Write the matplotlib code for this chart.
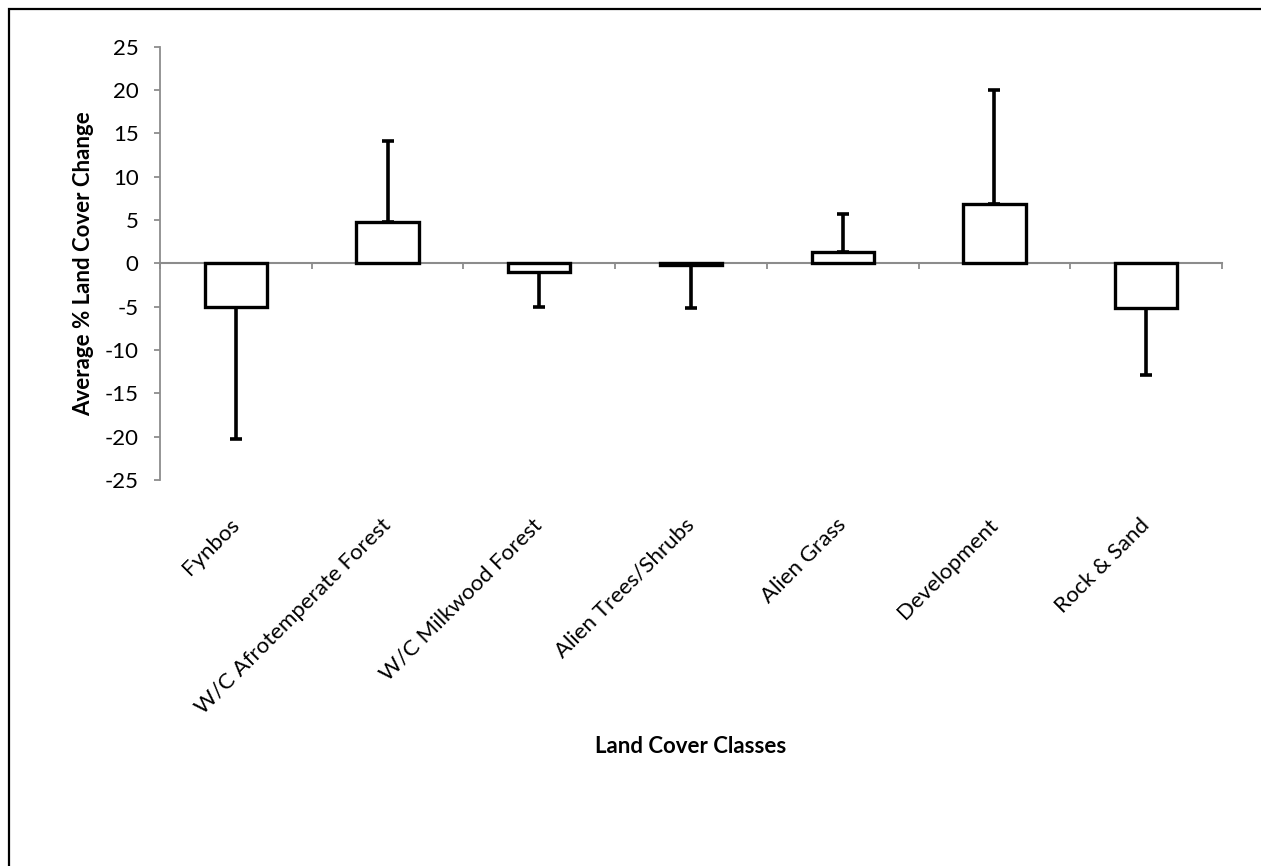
import matplotlib
matplotlib.use("Agg")
import matplotlib.pyplot as plt
from matplotlib.patches import Rectangle
import numpy as np

categories = ["Fynbos", "W/C Afrotemperate Forest", "W/C Milkwood Forest",
              "Alien Trees/Shrubs", "Alien Grass", "Development", "Rock & Sand"]
values = [-5.0, 4.8, -1.0, -0.2, 1.3, 6.8, -5.2]
errors = [15.3, 9.3, 4.0, 5.0, 4.4, 13.2, 7.7]
y_ticks = [-25, -20, -15, -10, -5, 0, 5, 10, 15, 20, 25]

plt.rcParams['font.family'] = ['Lato', 'DejaVu Sans']
plt.rcParams['axes.unicode_minus'] = False

W, H = 1261, 866
fig = plt.figure(figsize=(W / 100, H / 100), dpi=100)
ax = fig.add_axes([160 / W, 1 - 480 / H, (1222 - 160) / W, (480 - 46.7) / H])

gray = '#8c8c8c'
x = np.arange(len(categories))
vals = np.array(values)
errs = np.array(errors)
lower = np.where(vals < 0, errs, 0)
upper = np.where(vals >= 0, errs, 0)

ax.bar(x, vals, width=0.41, facecolor='white', edgecolor='black',
       linewidth=2.4, zorder=3)
ax.errorbar(x, vals, yerr=[lower, upper], fmt='none', ecolor='black',
            elinewidth=2.6, capsize=4, capthick=2.6, zorder=2)

ax.set_xlim(-0.5, len(categories) - 0.5)
ax.set_ylim(-25, 25)
ax.set_yticks(y_ticks)
ax.set_yticklabels([str(v) for v in y_ticks])
ax.tick_params(axis='y', direction='out', length=4.3, width=1.3, color=gray,
               pad=11, labelsize=16, labelcolor='black')

for s in ['top', 'right', 'bottom']:
    ax.spines[s].set_visible(False)
ax.spines['left'].set_color(gray)
ax.spines['left'].set_linewidth(1.3)

# category labels below the plot area
ax.set_xticks(x)
ax.set_xticklabels(categories, rotation=45, ha='right', va='center',
                   rotation_mode='anchor', fontsize=16)
ax.tick_params(axis='x', length=0, pad=30)

# zero axis line with boundary ticks
sec = ax.secondary_xaxis(0, transform=ax.transData)
sec.set_xticks(np.arange(len(categories) + 1) - 0.5)
sec.set_xticklabels([])
sec.tick_params(axis='x', direction='out', length=4.3, width=1.3, color=gray)
sec.spines['bottom'].set_color(gray)
sec.spines['bottom'].set_linewidth(1.5)
sec.set_zorder(1)

ax.set_ylabel("Average % Land Cover Change", fontsize=16, fontweight='bold')
ax.yaxis.set_label_coords(-0.062, 0.5)
ax.set_xlabel("Land Cover Classes", fontsize=16, fontweight='bold', va='center')
ax.xaxis.set_label_coords(0.5, -0.616)

fig.patches.append(Rectangle((9 / W, -0.1), 1.2, 1 - 9 / H + 0.1,
                             transform=fig.transFigure, fill=False,
                             edgecolor='black', linewidth=1.6, clip_on=False))

fig.savefig("out.png", dpi=100, facecolor='white')
